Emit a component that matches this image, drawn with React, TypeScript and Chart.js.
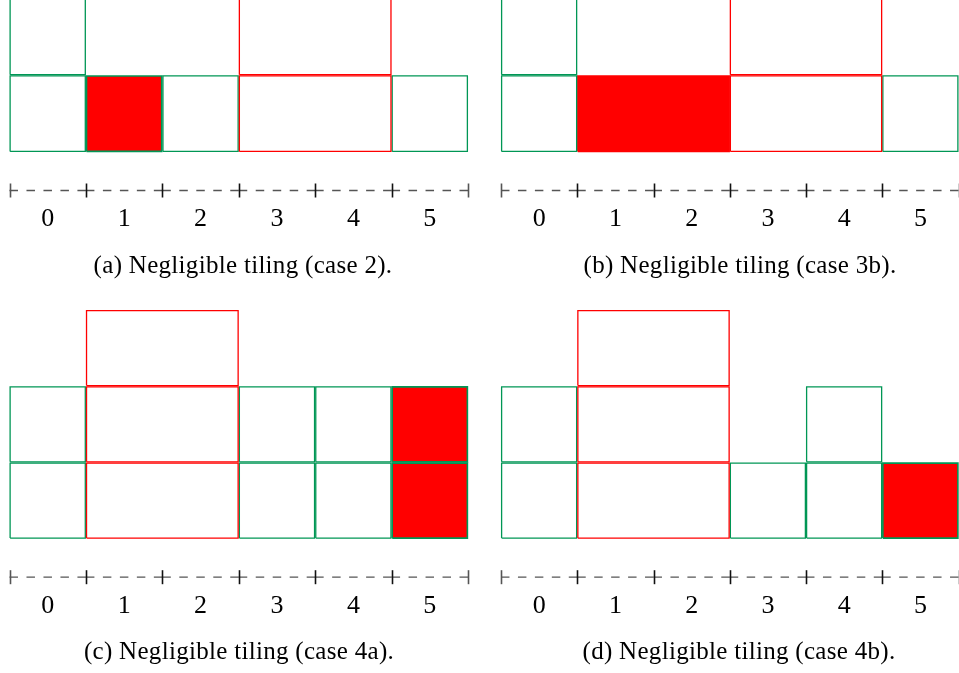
import React, { useEffect, useRef } from "react";
import { Chart, registerables } from "chart.js";

Chart.register(...registerables);

// ---- data ----
const X_LABELS = ["0", "1", "2", "3", "4", "5"];
const CAPTIONS = [
  "(a) Negligible tiling (case 2).",
  "(b) Negligible tiling (case 3b).",
  "(c) Negligible tiling (case 4a).",
  "(d) Negligible tiling (case 4b).",
];
// each tile: [xStart, xEnd, yStart, yEnd, kind]
// kind: g = green outline, r = red outline, fg = red fill + green border, fr = red fill + red border
const TILES_A: [number, number, number, number, string][] = [
  [0, 1, 0, 1, "g"],
  [0, 1, 1, 2, "g"],
  [1, 2, 0, 1, "fg"],
  [2, 3, 0, 1, "g"],
  [3, 5, 0, 1, "r"],
  [3, 5, 1, 2, "r"],
  [5, 6, 0, 1, "g"],
];
const TILES_B: [number, number, number, number, string][] = [
  [0, 1, 0, 1, "g"],
  [0, 1, 1, 2, "g"],
  [1, 3, 0, 1, "fr"],
  [3, 5, 0, 1, "r"],
  [3, 5, 1, 2, "r"],
  [5, 6, 0, 1, "g"],
];
const TILES_C: [number, number, number, number, string][] = [
  [0, 1, 0, 1, "g"],
  [0, 1, 1, 2, "g"],
  [1, 3, 0, 1, "r"],
  [1, 3, 1, 2, "r"],
  [1, 3, 2, 3, "r"],
  [3, 4, 0, 1, "g"],
  [3, 4, 1, 2, "g"],
  [4, 5, 0, 1, "g"],
  [4, 5, 1, 2, "g"],
  [5, 6, 0, 1, "fg"],
  [5, 6, 1, 2, "fg"],
];
const TILES_D: [number, number, number, number, string][] = [
  [0, 1, 0, 1, "g"],
  [0, 1, 1, 2, "g"],
  [1, 3, 0, 1, "r"],
  [1, 3, 1, 2, "r"],
  [1, 3, 2, 3, "r"],
  [3, 4, 0, 1, "g"],
  [4, 5, 0, 1, "g"],
  [4, 5, 1, 2, "g"],
  [5, 6, 0, 1, "fg"],
];

// ---- styling / layout ----
const GREEN = "rgb(0,150,85)";
const RED = "rgb(255,0,0)";
const SERIF = '"Liberation Serif", "DejaVu Serif", serif';
const INSET = 0.008;

const PANELS = [
  { tiles: TILES_A, caption: CAPTIONS[0], left: 0, top: -81, width: 480, height: 366, captionX: 243, pad: { left: 9.5, right: 12, top: 3, bottom: 133 } },
  { tiles: TILES_B, caption: CAPTIONS[1], left: 480, top: -81, width: 479, height: 366, captionX: 260, pad: { left: 21, right: 0.5, top: 3, bottom: 133 } },
  { tiles: TILES_C, caption: CAPTIONS[2], left: 0, top: 307, width: 480, height: 366, captionX: 239, pad: { left: 9.5, right: 12, top: 3, bottom: 134.3 } },
  { tiles: TILES_D, caption: CAPTIONS[3], left: 480, top: 307, width: 479, height: 366, captionX: 259, pad: { left: 21, right: 0.5, top: 3, bottom: 134.3 } },
];

const axisPlugin = {
  id: "tilingAxis",
  afterDatasetsDraw(chart: any, _args: any, opts: any) {
    const { ctx, chartArea } = chart;
    const xs = chart.scales.x;
    const yA = chartArea.bottom + 38.5;
    ctx.save();
    // dashed baseline
    ctx.strokeStyle = "#555";
    ctx.lineWidth = 1.3;
    for (let k = 0; k < X_LABELS.length; k++) {
      const x0 = xs.getPixelForValue(k);
      const x1 = xs.getPixelForValue(k + 1);
      const L = x1 - x0;
      ctx.setLineDash([L / 9, L / 9]);
      ctx.beginPath();
      ctx.moveTo(x0, yA);
      ctx.lineTo(x1, yA);
      ctx.stroke();
    }
    ctx.setLineDash([]);
    // tick marks
    for (let k = 0; k <= X_LABELS.length; k++) {
      const x = Math.round(xs.getPixelForValue(k)) + 0.5;
      ctx.strokeStyle = k === 0 || k === X_LABELS.length ? "#555" : "#111";
      ctx.lineWidth = 1.6;
      ctx.beginPath();
      ctx.moveTo(x, yA - 7);
      ctx.lineTo(x, yA + 7);
      ctx.stroke();
    }
    // labels
    ctx.fillStyle = "#000";
    ctx.textAlign = "center";
    ctx.textBaseline = "middle";
    ctx.font = `26px ${SERIF}`;
    X_LABELS.forEach((lab, k) => {
      ctx.fillText(lab, xs.getPixelForValue(k + 0.5), yA + 29);
    });
    // caption
    ctx.font = `25px ${SERIF}`;
    try {
      (ctx as any).letterSpacing = "0.3px";
    } catch (e) {}
    ctx.fillText(opts.caption, opts.captionX, chartArea.bottom + 114);
    ctx.restore();
  },
};

function buildDatasets(tiles: [number, number, number, number, string][]) {
  return tiles.map(([x0, x1, y0, y1, kind]) => {
    const a = x0 + INSET, b = x1 - INSET, c = y0 + INSET, d = y1 - INSET;
    const filled = kind === "fg" || kind === "fr";
    const border = kind === "g" || kind === "fg" ? GREEN : RED;
    return {
      data: [
        { x: a, y: c },
        { x: b, y: c },
        { x: b, y: d },
        { x: a, y: d },
        { x: a, y: c },
      ],
      showLine: true,
      borderColor: border,
      borderWidth: filled ? 1.6 : 1.3,
      backgroundColor: RED,
      fill: filled ? "shape" : false,
      pointRadius: 0,
      tension: 0,
      clip: false,
      order: filled ? 3 : kind === "g" ? 2 : 1,
    };
  });
}

function Panel({ p }: { p: (typeof PANELS)[number] }) {
  const ref = useRef<HTMLCanvasElement | null>(null);
  useEffect(() => {
    if (!ref.current) return;
    const chart = new Chart(ref.current, {
      type: "scatter",
      data: { datasets: buildDatasets(p.tiles) as any },
      options: {
        animation: false,
        responsive: false,
        devicePixelRatio: 1,
        layout: { padding: p.pad },
        scales: {
          x: { type: "linear", min: 0, max: 6, display: false },
          y: { type: "linear", min: 0, max: 3, display: false },
        },
        plugins: {
          legend: { display: false },
          tooltip: { enabled: false },
          tilingAxis: { caption: p.caption, captionX: p.captionX },
        } as any,
        events: [],
      },
      plugins: [axisPlugin],
    });
    return () => chart.destroy();
  }, [p]);
  return (
    <div style={{ position: "absolute", left: p.left, top: p.top, width: p.width, height: p.height }}>
      <canvas ref={ref} width={p.width} height={p.height} style={{ display: "block" }} />
    </div>
  );
}

export default function App() {
  return (
    <div style={{ position: "fixed", left: 0, top: 0, width: 959, height: 673, overflow: "hidden", background: "#fff" }}>
      {PANELS.map((p, i) => (
        <Panel key={i} p={p} />
      ))}
    </div>
  );
}
